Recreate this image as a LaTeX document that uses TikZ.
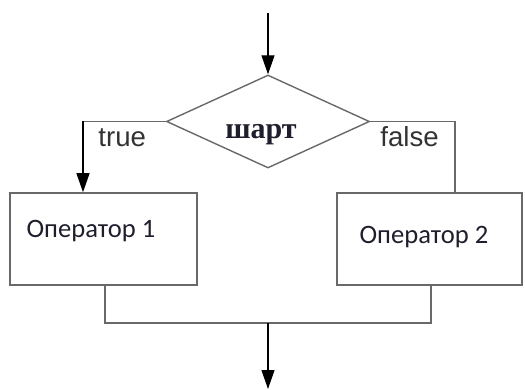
\documentclass[tikz,border=0pt]{standalone}
\usepackage{fontspec}
\usepackage{tikz}
\usepackage{xcolor}
\usetikzlibrary{shapes.geometric,arrows.meta}
\newfontfamily\condfont{Liberation Serif}
\newfontfamily\branchfont{Liberation Sans}
\newfontfamily\opfont{Carlito}
\definecolor{frame-grey}{RGB}{105,105,105}
\definecolor{op-ink}{RGB}{30,30,45}
\tikzset{
    cond-box/.style = {draw=frame-grey, line width=0.7pt, diamond, inner sep=0pt, minimum width=101.5pt, minimum height=46.5pt},
    op-box/.style = {draw=frame-grey, line width=0.8pt, rectangle, inner sep=0pt, minimum height=46pt},
    op-text/.style = {font=\opfont\fontsize{13.3}{15}\selectfont, text=op-ink, inner sep=0pt, anchor=base west},
    branch-label/.style = {font=\branchfont\fontsize{13.8}{16}\selectfont, text=black!80, inner sep=0pt, anchor=base west},
    flow-line/.style = {draw=frame-grey, line width=0.8pt},
    flow-arrow/.style = {draw=black, line width=0.6pt, -{Triangle[length=9.5pt,width=6.5pt]}},
}
\begin{document}
\begin{tikzpicture}[x=0.5pt, y=-0.5pt]
\useasboundingbox (0,0) rectangle (525,390);
\coordinate (entry) at (268,13);
\node [cond-box] (cond) at (268,121.5) {};
\node [font=\condfont\bfseries\fontsize{15}{17}\selectfont, text=op-ink, inner sep=0pt, anchor=base] (cond-text) at (261,139) {шарт};
\node [op-box, minimum width=93.5pt] (op1) at (103.5,239) {};
\node [op-box, minimum width=92.5pt] (op2) at (429.5,239) {};
\node [op-text] (op1-text) at ([shift={(17,-2)}]op1.west) {Оператор 1};
\node [op-text] (op2-text) at ([shift={(23,4)}]op2.west) {Оператор 2};
\node [branch-label] (yes) at (98,147) {true};
\node [branch-label] (no) at (380,147) {false};
\coordinate (join) at (268,323);
\coordinate (exit) at (268,389);

% entry and the two branches
\draw [flow-arrow] (entry) -- (cond.north);
\draw [flow-line] (cond.west) -- (83,121.5);
\draw [flow-arrow] (83,121.5) -- ([shift={(-20.5,0)}]op1.north);
\draw [flow-line] (cond.east) -| ([shift={(25.5,0)}]op2.north);

% merge below the boxes
\draw [flow-line] ([shift={(1.5,0)}]op1.south) |- (join) -| ([shift={(1.5,0)}]op2.south);
\draw [flow-arrow] (join) -- (exit);
\end{tikzpicture}
\end{document}
